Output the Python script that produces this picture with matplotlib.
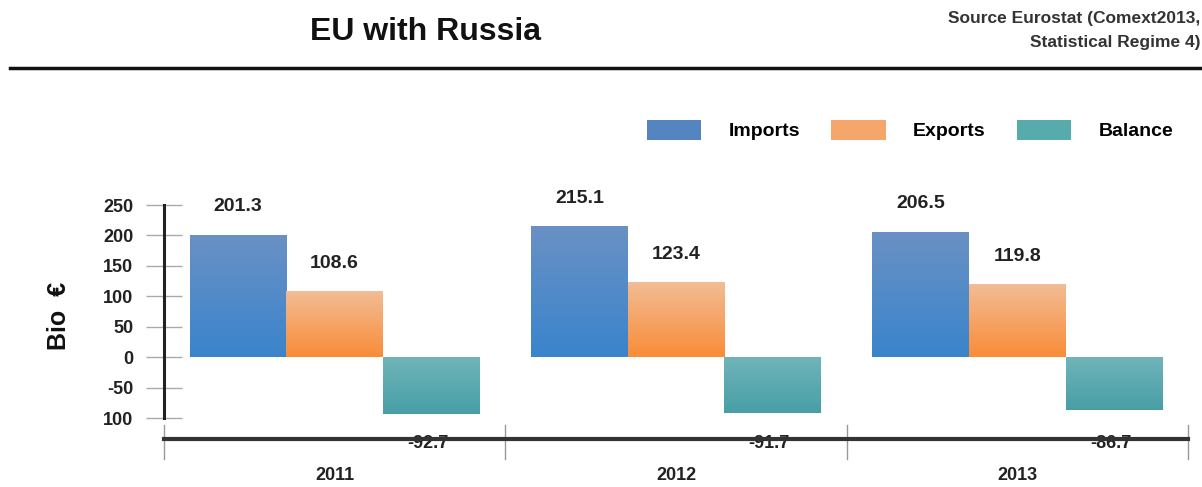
import numpy as np
import matplotlib
matplotlib.use("Agg")
import matplotlib.pyplot as plt
from matplotlib.patches import Patch
from matplotlib.lines import Line2D
from matplotlib.colors import LinearSegmentedColormap

years = ["2011", "2012", "2013"]
imports = [201.3, 215.1, 206.5]
exports = [108.6, 123.4, 119.8]
balance = [-92.7, -91.7, -86.7]
series_names = ["Imports", "Exports", "Balance"]
yticks = [250, 200, 150, 100, 50, 0, -50, -100]
ytick_labels = ["250", "200", "150", "100", "50", "0", "-50", "100"]

plt.rcParams['font.family'] = ['Liberation Sans', 'DejaVu Sans']
plt.rcParams['font.weight'] = 'bold'

W, H = 1202, 487
fig = plt.figure(figsize=(W / 100, H / 100), dpi=100)

# axes: x 164..1188 px, y 205 (250) .. 439 (-134)
ax_l, ax_r = 164, 1188
ax_t, ax_b = 205, 439
ax = fig.add_axes([ax_l / W, (H - ax_b) / H, (ax_r - ax_l) / W, (ax_b - ax_t) / H])
ymin = -134
ax.set_ylim(ymin, 250)
ax.set_xlim(-0.5, 2.5)

grad_colors = {
    "Imports": ("#6a91c4", "#3a84cc"),
    "Exports": ("#f2bd96", "#f98c38"),
    "Balance": ("#70b4b9", "#479fa6"),
}
legend_colors = {"Imports": "#5585c0", "Exports": "#f5a66a", "Balance": "#58abad"}

width = 0.283
x = np.arange(len(years))
data = [imports, exports, balance]
offsets = [-width, 0, width]

for name, vals, off in zip(series_names, data, offsets):
    bars = ax.bar(x + off, vals, width=width, color=legend_colors[name], linewidth=0, zorder=2)
    top, bot = grad_colors[name]
    cmap = LinearSegmentedColormap.from_list(name, [bot, top])
    for b in bars:
        bx, by = b.get_x(), b.get_y()
        bw, bh = b.get_width(), b.get_height()
        y0, y1 = min(by, by + bh), max(by, by + bh)
        grad = np.linspace(0, 1, 100).reshape(-1, 1)
        im = ax.imshow(grad, extent=[bx, bx + bw, y0, y1], origin="lower",
                       cmap=cmap, aspect="auto", zorder=3)
        im.set_clip_path(b)
    ax.set_xlim(-0.5, 2.5)
    ax.set_ylim(ymin, 250)

# value labels
for i in range(len(years)):
    ax.annotate(f"{imports[i]:.1f}", (x[i] - width, imports[i]), xytext=(0, 20),
                textcoords="offset points", ha="center", va="center",
                fontsize=14, fontweight="bold", color="#222222", zorder=5)
    ax.annotate(f"{exports[i]:.1f}", (x[i], exports[i]), xytext=(0, 20),
                textcoords="offset points", ha="center", va="center",
                fontsize=14, fontweight="bold", color="#222222", zorder=5)
    ax.text(x[i] + width - 0.01, -142, f"{balance[i]:.1f}", ha="center", va="center",
            fontsize=13, fontweight="bold", color="#222222", zorder=1)

# spines
for s in ["top", "right"]:
    ax.spines[s].set_visible(False)
ax.spines["left"].set_bounds(-100, 250)
ax.spines["left"].set_linewidth(2.2)
ax.spines["left"].set_color("#222222")
ax.spines["left"].set_zorder(4)
ax.spines["bottom"].set_linewidth(3.0)
ax.spines["bottom"].set_color("#333333")
ax.spines["bottom"].set_zorder(4)

ax.set_yticks(yticks)
ax.set_yticklabels(ytick_labels)
ax.tick_params(axis="y", direction="inout", length=26, width=1, color="#aaaaaa",
               pad=9, labelsize=13, labelcolor="#222222")
ax.set_xticks([])

# category separators
for xs in [-0.5, 0.5, 1.5, 2.5]:
    ax.plot([xs, xs], [-111, -166], color="#999999", lw=1, clip_on=False, zorder=1)

# year labels
for i, yr in enumerate(years):
    ax.text(x[i], -194, yr, ha="center", va="center", fontsize=13,
            fontweight="bold", color="#222222")

# y label
fig.text(59 / W, 1 - 316 / H, "Bio  €", rotation=90, ha="center", va="center",
         fontsize=18, fontweight="bold", color="#111111")

# title and source
fig.text(425 / W, 1 - 32 / H, "EU with Russia", ha="center", va="center",
         fontsize=23, fontweight="bold", color="#111111")
fig.text(1200 / W, 1 - 18 / H, "Source Eurostat (Comext2013,", ha="right", va="center",
         fontsize=12.5, fontweight="bold", color="#333333")
fig.text(1200 / W, 1 - 42 / H, "Statistical Regime 4)", ha="right", va="center",
         fontsize=12.5, fontweight="bold", color="#333333")

# horizontal rule
fig.add_artist(Line2D([10 / W, 1.0], [1 - 68 / H, 1 - 68 / H], color="#111111", lw=2.5))

# legend
handles = [Patch(facecolor=legend_colors[n], edgecolor="none", label=n) for n in series_names]
leg = fig.legend(handles=handles, loc="center", bbox_to_anchor=(910 / W, 1 - 130 / H),
                 ncol=3, frameon=False, handlelength=2.8, handleheight=1.2,
                 handletextpad=1.4, columnspacing=1.6, prop={"weight": "bold", "size": 14})

fig.savefig("out.png", dpi=100)
